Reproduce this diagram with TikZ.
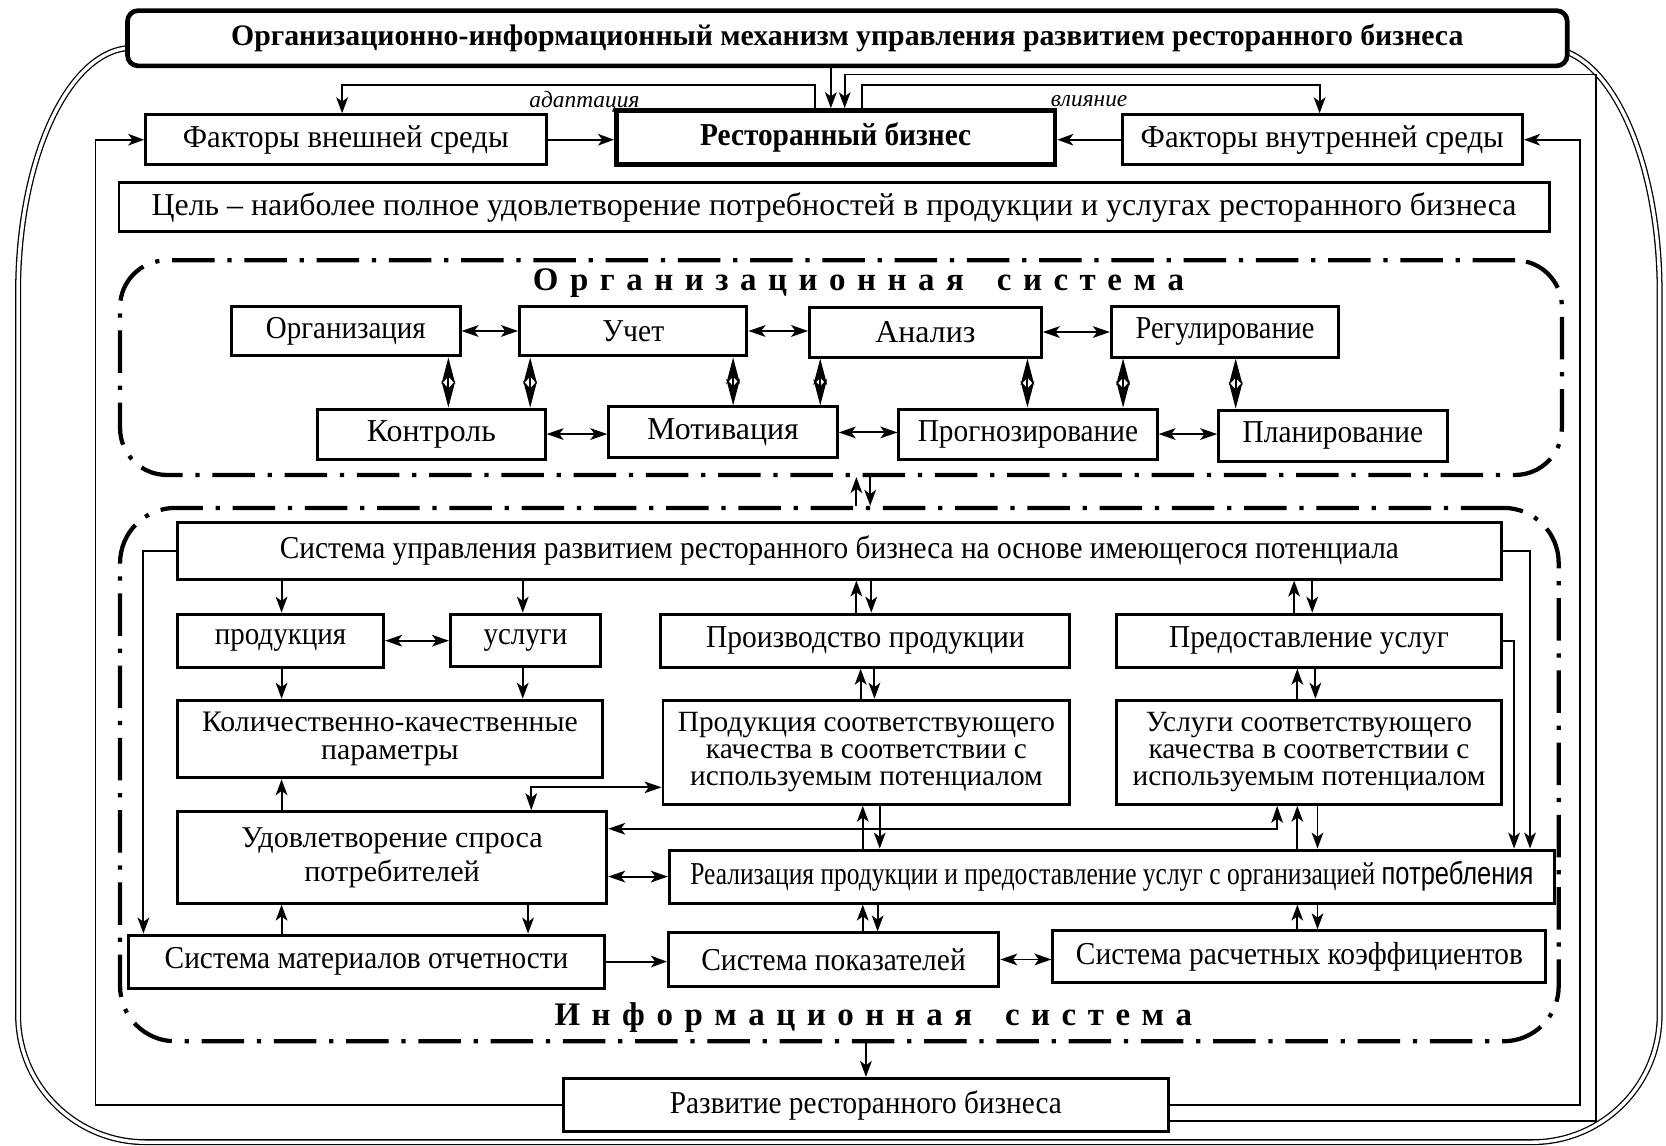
\documentclass[tikz,border=0pt]{standalone}
\usepackage{fontspec}
\setmainfont{Liberation Serif}
\newfontfamily\sansf{Liberation Sans}
\usepackage{graphicx}
\usetikzlibrary{arrows.meta}
\newcommand\fsN{\fontsize{15}{17}\selectfont}
\newcommand\fsT{\fontsize{14}{16}\selectfont\bfseries}
\newcommand\fsM{\fontsize{13.8}{12.6}\selectfont}
\newcommand\fsK{\fontsize{14}{13.5}\selectfont}
\newcommand\fsU{\fontsize{14.2}{16}\selectfont}
\newcommand\fsL{\fontsize{15.5}{17}\selectfont\bfseries}
\newcommand\fsI{\fontsize{11}{12}\selectfont\itshape}
\newcommand\hs[2]{\scalebox{#1}[1]{#2}}
\newcommand\bx[7][]{%
  \pgfmathsetmacro\bxw{(#5-#3)*0.5}%
  \pgfmathsetmacro\bxh{(#6-#4)*0.5}%
  \node[box,minimum width=\bxw pt,minimum height=\bxh pt,#1] (#2) at ({(#3+#5)/2},{(#4+#6)/2}) {#7};%
}
\tikzset{
  box/.style={draw, line width=1.4pt, inner sep=1pt, align=center, fill=white, font=\fsN},
  thickbox/.style={line width=2.2pt},
  sysframe/.style={draw, line width=2pt, dash pattern=on 20pt off 6pt on 2pt off 6pt, rounded corners=22pt, fill=none},
  outer/.style={double, double distance=1.6pt, line width=0.6pt},
  arr/.style={line width=0.9pt, -{Stealth[length=7.5pt,width=5.5pt,inset=2pt]}},
  darr/.style={line width=0.9pt, {Stealth[length=8pt,width=5.5pt,inset=2pt]}-{Stealth[length=8pt,width=5.5pt,inset=2pt]}},
  vdarr/.style={line width=0.9pt, {Stealth[length=12.5pt,width=6.5pt,inset=3.5pt]}-{Stealth[length=12.5pt,width=6.5pt,inset=3.5pt]}},
  loopline/.style={line width=0.8pt, -{Stealth[length=7.5pt,width=5.5pt,inset=2pt]}},
  lab/.style={font=\fsI, inner sep=0pt},
  syslab/.style={font=\fsL, inner sep=0pt}
}
\begin{document}
\begin{tikzpicture}[x=0.5pt,y=-0.5pt]
\useasboundingbox (0,0) rectangle (1568,1078);
% outer double frame
\draw[outer] (17,955) -- (17,275) arc[start angle=180,end angle=270,x radius=108,y radius=230] -- (1455,45) arc[start angle=270,end angle=360,x radius=107,y radius=230] -- (1562,955) arc[start angle=0,end angle=90,radius=120] -- (137,1075) arc[start angle=90,end angle=180,radius=120] -- cycle;
% system frames
\bx[sysframe]{orgsys}{113}{245}{1470}{447}{}
\bx[sysframe,rounded corners=26pt]{infosys}{113}{478}{1467}{980}{}
\node[syslab] (orglab) at (808,266) {\spaceskip=0.35em О р г а н и з а ц и о н н а я\hspace{1.0em}с и с т е м а};
\node[syslab] (infolab) at (822,958) {\spaceskip=0.35em И н ф о р м а ц и о н н а я\hspace{1.0em}с и с т е м а};
% top part
\bx[thickbox,rounded corners=5pt,font=\fsT]{title}{120}{10}{1475}{62}{Организационно-информационный механизм управления развитием ресторанного бизнеса}
\bx{fext}{137}{108}{514}{155}{\hs{0.965}{Факторы внешней среды}}
\bx[thickbox,font=\fsN\bfseries]{rb}{580}{104}{993}{155}{\hs{0.92}{Ресторанный бизнес}}
\bx{fint}{1056}{108}{1433}{155}{\hs{0.965}{Факторы внутренней среды}}
\bx{goal}{112}{172}{1458}{218}{Цель – наиболее полное удовлетворение потребностей в продукции и услугах ресторанного бизнеса}
% organisational system
\bx{org}{218}{288}{433}{335}{\hs{0.91}{Организация}}
\bx{uchet}{489}{288}{703}{335}{\hs{0.93}{Учет}}
\bx{analiz}{762}{289}{980}{336}{Анализ}
\bx{regul}{1046}{288}{1260}{336}{\hs{0.89}{Регулирование}}
\bx{kontrol}{299}{385}{513}{432}{Контроль}
\bx{motiv}{573}{383}{788}{431}{Мотивация}
\bx{prognoz}{846}{385}{1089}{432}{\hs{0.92}{Прогнозирование}}
\bx{plan}{1147}{386}{1362}{434}{\hs{0.92}{Планирование}}
% information system
\bx{su}{167}{492}{1413}{545}{\hs{0.92}{Система управления развитием ресторанного бизнеса на основе имеющегося потенциала}}
\bx{prod}{167}{578}{361}{628}{\hs{0.91}{продукция}}
\bx{usl}{424}{578}{565}{627}{\hs{0.91}{услуги}}
\bx{proizv}{622}{578}{1007}{628}{\hs{0.925}{Производство продукции}}
\bx{predost}{1051}{578}{1413}{628}{\hs{0.92}{Предоставление услуг}}
\bx[font=\fsK]{kolkach}{167}{659}{567}{732}{Количественно-качественные\\параметры}
\bx[font=\fsM]{prodsoot}{624}{659}{1007}{757}{Продукция соответствующего\\качества в соответствии с\\используемым потенциалом}
\bx[font=\fsM]{uslsoot}{1051}{659}{1413}{757}{Услуги соответствующего\\качества в соответствии с\\используемым потенциалом}
\bx[font=\fsU]{udovl}{167}{764}{571}{850}{Удовлетворение спроса\\потребителей}
\bx{real}{630}{800}{1463}{850}{\hs{0.80}{Реализация продукции и предоставление услуг с организацией {\sansf потребления}}}
\bx{smat}{121}{880}{569}{930}{\hs{0.92}{Система материалов отчетности}}
\bx{spok}{629}{878}{940}{928}{\hs{0.925}{Система показателей}}
\bx{srasch}{991}{876}{1455}{925}{\hs{0.923}{Система расчетных коэффициентов}}
\bx{razv}{530}{1015}{1100}{1065}{\hs{0.918}{Развитие ресторанного бизнеса}}
% top connectors
\draw[arr] (title.south -| 782,0) -- (rb.north -| 782,0);
\draw[arr] (rb.north -| 767,0) -- (767,80) -| (fext.north -| 322,0);
\node[lab] (adapt) at (550,96) {адаптация};
\draw[arr] (rb.north -| 811,0) -- (811,80) -| (fint.north -| 1242,0);
\node[lab] (vliyan) at (1025,95) {влияние};
\draw[arr] (fext.east) -- (fext.east -| rb.west);
\draw[arr] (fint.west) -- (fint.west -| rb.east);
\draw[loopline] (razv.west) -- (razv.west -| 90,0) |- (fext.west);
\draw[loopline] (razv.east) -- (razv.east -| 1487,0) |- (fint.east);
\draw[loopline] (razv.east |- 0,1055) -- (1502,1055) -- (1502,70) -- (795,70) -- (rb.north -| 795,0);
% organisational connectors
\draw[darr] (org.east) -- (org.east -| uchet.west);
\draw[darr] (uchet.east) -- (uchet.east -| analiz.west);
\draw[darr] (analiz.east) -- (analiz.east -| regul.west);
\draw[darr] (kontrol.east) -- (kontrol.east -| motiv.west);
\draw[darr] (motiv.east) -- (motiv.east -| prognoz.west);
\draw[darr] (prognoz.east) -- (prognoz.east -| plan.west);
\draw[vdarr] (org.south -| 422,0) -- (kontrol.north -| 422,0);
\draw[vdarr] (uchet.south -| 499,0) -- (kontrol.north -| 499,0);
\draw[vdarr] (uchet.south -| 690,0) -- (motiv.north -| 690,0);
\draw[vdarr] (analiz.south -| 772,0) -- (motiv.north -| 772,0);
\draw[vdarr] (analiz.south -| 967,0) -- (prognoz.north -| 967,0);
\draw[vdarr] (regul.south -| 1057,0) -- (prognoz.north -| 1057,0);
\draw[vdarr] (regul.south -| 1163,0) -- (plan.north -| 1163,0);
% between systems
\draw[arr] (infosys.north -| 806,0) -- (orgsys.south -| 806,0);
\draw[arr] (orgsys.south -| 819,0) -- (infosys.north -| 819,0);
% information connectors
\draw[arr] (su.west) -| (smat.north -| 135,0);
\draw[arr] (su.east) -| (real.north -| 1440,0);
\draw[arr] (predost.east) -| (real.north -| 1425,0);
\draw[arr] (su.south -| 265,0) -- (prod.north -| 265,0);
\draw[arr] (su.south -| 492,0) -- (usl.north -| 492,0);
\draw[darr] (prod.east) -- (prod.east -| usl.west);
\draw[arr] (prod.south -| 265,0) -- (kolkach.north -| 265,0);
\draw[arr] (usl.south -| 492,0) -- (kolkach.north -| 492,0);
\draw[arr] (proizv.north -| 806,0) -- (su.south -| 806,0);
\draw[arr] (su.south -| 820,0) -- (proizv.north -| 820,0);
\draw[arr] (predost.north -| 1218,0) -- (su.south -| 1218,0);
\draw[arr] (su.south -| 1235,0) -- (predost.north -| 1235,0);
\draw[arr] (prodsoot.north -| 810,0) -- (proizv.south -| 810,0);
\draw[arr] (proizv.south -| 823,0) -- (prodsoot.north -| 823,0);
\draw[arr] (uslsoot.north -| 1221,0) -- (predost.south -| 1221,0);
\draw[arr] (predost.south -| 1238,0) -- (uslsoot.north -| 1238,0);
\draw[arr] (udovl.north -| 265,0) -- (kolkach.south -| 265,0);
\draw[darr] (udovl.north -| 500,0) |- (prodsoot.west |- 0,741);
\draw[darr] (uslsoot.south -| 1202,0) |- (udovl.east |- 0,780);
\draw[arr] (real.north -| 812,0) -- (prodsoot.south -| 812,0);
\draw[arr] (prodsoot.south -| 828,0) -- (real.north -| 828,0);
\draw[arr] (real.north -| 1221,0) -- (uslsoot.south -| 1221,0);
\draw[arr] (uslsoot.south -| 1240,0) -- (real.north -| 1240,0);
\draw[darr] (udovl.east |- 0,825) -- (real.west |- 0,825);
\draw[arr] (smat.north -| 265,0) -- (udovl.south -| 265,0);
\draw[arr] (udovl.south -| 497,0) -- (smat.north -| 497,0);
\draw[arr] (smat.east) -- (smat.east -| spok.west);
\draw[darr] (spok.east) -- (spok.east -| srasch.west);
\draw[arr] (spok.north -| 812,0) -- (real.south -| 812,0);
\draw[arr] (real.south -| 826,0) -- (spok.north -| 826,0);
\draw[arr] (srasch.north -| 1221,0) -- (real.south -| 1221,0);
\draw[arr] (real.south -| 1240,0) -- (srasch.north -| 1240,0);
\draw[arr] (infosys.south -| 815,0) -- (razv.north -| 815,0);
\end{tikzpicture}
\end{document}
